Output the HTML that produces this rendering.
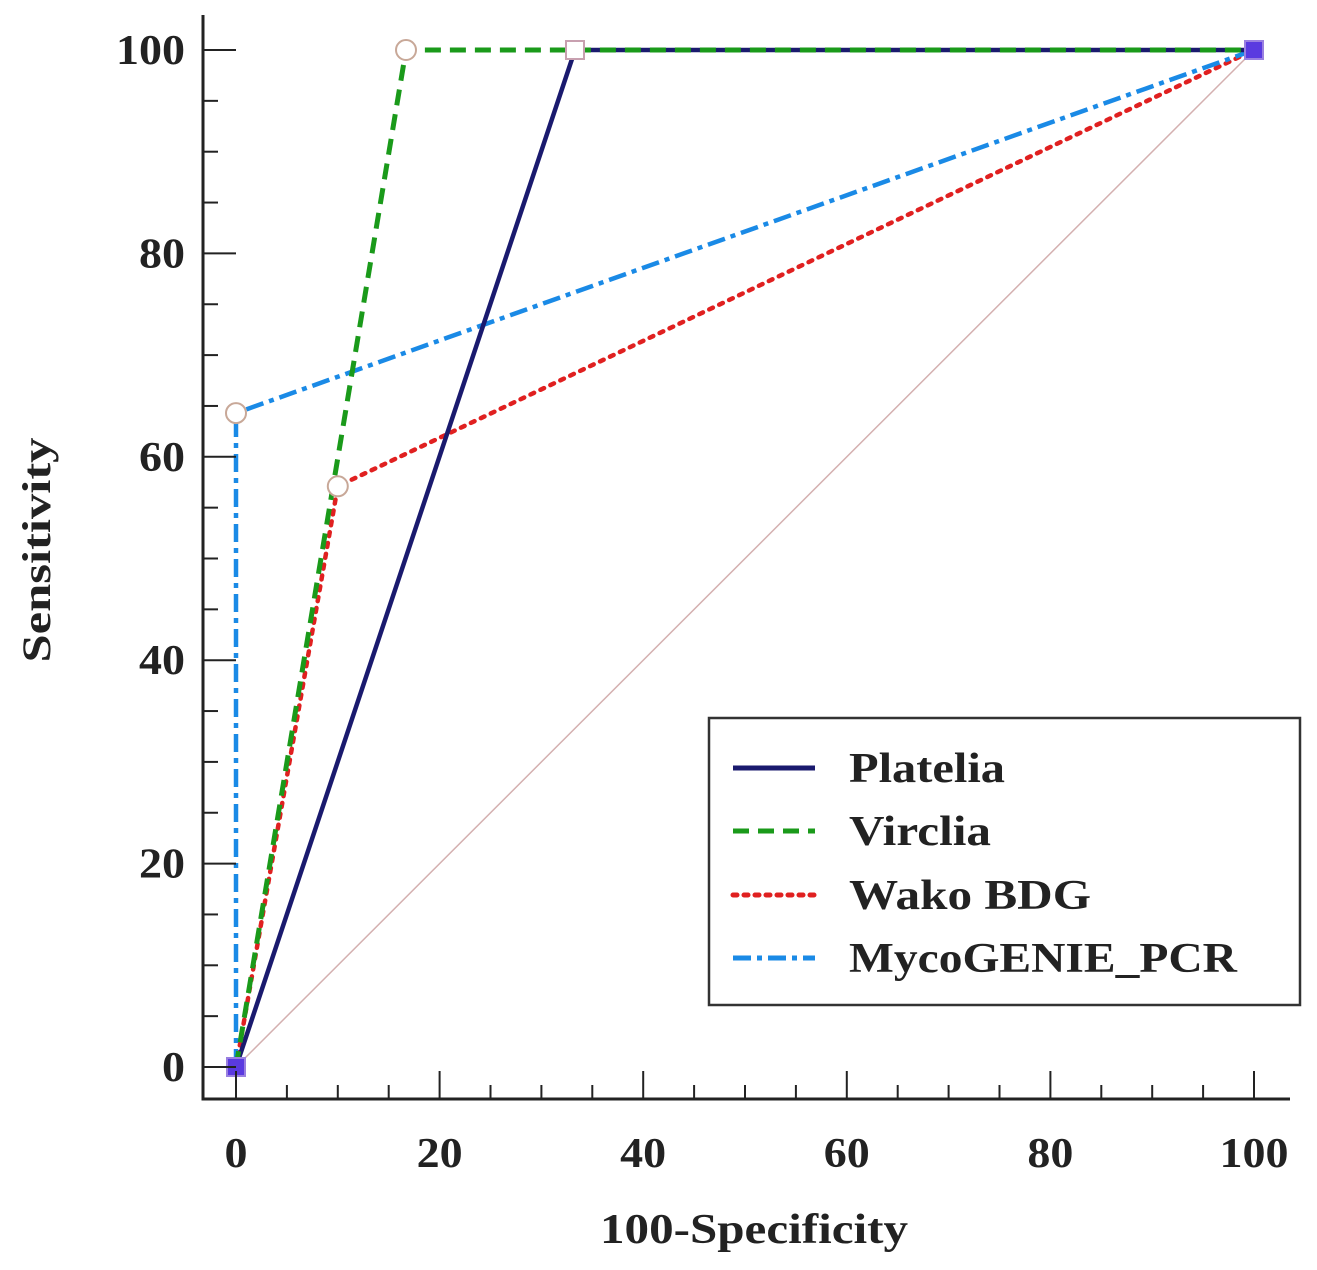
<!DOCTYPE html>
<html><head><meta charset="utf-8"><style>
html,body{margin:0;padding:0;background:#fff}
svg{display:block;font-family:"Liberation Serif",serif;font-weight:bold}
</style></head><body>
<svg id="chart" width="1317" height="1270" viewBox="0 0 1317 1270">
<g id="grid"></g>
<g id="series"></g>
<g id="marks"></g>
<g id="axes"></g>
<text x="754" y="1243" text-anchor="middle" font-size="42" fill="#222" textLength="308" lengthAdjust="spacingAndGlyphs">100-Specificity</text>
<text transform="translate(50,550) rotate(-90)" text-anchor="middle" font-size="40" fill="#222" textLength="225" lengthAdjust="spacingAndGlyphs">Sensitivity</text>
<g>
<rect x="709" y="718" width="591" height="287" fill="#fff" stroke="#333" stroke-width="2.5"/>
<g id="legend-items"></g>
</g>
</svg>
<script>
const seriesNames = ["Platelia","Virclia","Wako BDG","MycoGENIE_PCR"];
const plateliaX = [0,33.3,100], plateliaY = [0,100,100];
const vircliaX = [0,16.7,100], vircliaY = [0,100,100];
const wakoX = [0,10,100], wakoY = [0,57.1,100];
const mycoX = [0,0,100], mycoY = [0,64.3,100];
const xTicks = [0,20,40,60,80,100];
const yTicks = [0,20,40,60,80,100];
const openCircleX = [16.7,10,0], openCircleY = [100,57.1,64.3];
const openSquareX = [33.3], openSquareY = [100];
const endX = [0,100], endY = [0,100];

const NS="http://www.w3.org/2000/svg";
const sx = v => 236 + v*10.18;
const sy = v => 1067 - v*10.17;
function mk(tag, attrs, parent){const e=document.createElementNS(NS,tag);for(const k in attrs)e.setAttribute(k,attrs[k]);parent.appendChild(e);return e;}
const axes=document.getElementById('axes'), ser=document.getElementById('series'), marks=document.getElementById('marks'), grid=document.getElementById('grid');

let d=mk('line',{x1:sx(0),y1:sy(0),x2:sx(100),y2:sy(100),stroke:'#d4b0b0','stroke-width':1.5},grid);



let ax=mk('path',{d:'M203,15 V1099 H1290',fill:'none',stroke:'#222','stroke-width':3},axes);


for(let v=0; v<=100; v+=5){
  const major = v%20===0;
  let t=mk('line',{x1:203,x2:major?236:218,y1:sy(v),y2:sy(v),stroke:'#222','stroke-width':2},axes);
  
  
  let u=mk('line',{x1:sx(v),x2:sx(v),y1:1099,y2:major?1071:1085,stroke:'#222','stroke-width':2},axes);
  
  
}
yTicks.forEach(v=>{
  const s=String(v);
  let t=mk('text',{x:185,y:sy(v)+14,'text-anchor':'end','font-size':42,fill:'#222',textLength:s.length*23,lengthAdjust:'spacingAndGlyphs'},axes);
  t.textContent=v;
  
  
});
xTicks.forEach(v=>{
  const s=String(v);
  let t=mk('text',{x:sx(v),y:1167,'text-anchor':'middle','font-size':42,fill:'#222',textLength:s.length*23,lengthAdjust:'spacingAndGlyphs'},axes);
  t.textContent=v;
  
  
});

const styles=[
 {xs:plateliaX,ys:plateliaY,c:'#1a1a6e',dash:'',w:4.5},
 {xs:vircliaX,ys:vircliaY,c:'#1a9a1a',dash:'16,9',w:5},
 {xs:wakoX,ys:wakoY,c:'#e02020',dash:'4,7',w:4.5},
 {xs:mycoX,ys:mycoY,c:'#1a8ae6',dash:'18,6,5,6',w:4.5}
];
const order=[2,3,0,1];
order.forEach(i=>{
  const s=styles[i];
  const p=s.xs.map((x,j)=>(j?'L':'M')+sx(x)+','+sy(s.ys[j])).join(' ');
  let e=mk('path',{d:p,fill:'none',stroke:s.c,'stroke-width':s.w,'stroke-dasharray':s.dash,'stroke-linecap':i==2?'round':'butt'},ser);
  
  
});
openCircleX.forEach((x,i)=>{
  let c=mk('circle',{cx:sx(x),cy:sy(openCircleY[i]),r:10,fill:'#fff',stroke:'#c8a898','stroke-width':2},marks);
  
  
});
openSquareX.forEach((x,i)=>{
  let c=mk('rect',{x:sx(x)-9,y:sy(openSquareY[i])-9,width:18,height:18,fill:'#fff',stroke:'#c8a0b0','stroke-width':2},marks);
  
  
});
endX.forEach((x,i)=>{
  let c=mk('rect',{x:sx(x)-9,y:sy(endY[i])-9,width:18,height:18,fill:'#5a3ae0',stroke:'#9a80e0','stroke-width':2},marks);
  
  
});

const li=document.getElementById('legend-items');
const ly=[768,831,895,958];
const lw=[156,142,242,388];
seriesNames.forEach((n,i)=>{
  const s=styles[i];
  let l=mk('line',{x1:733,x2:815,y1:ly[i],y2:ly[i],stroke:s.c,'stroke-width':5,'stroke-dasharray':s.dash,'stroke-linecap':i==2?'round':'butt'},li);
  
  
  let t=mk('text',{x:849,y:ly[i]+14,'font-size':42,fill:'#222',textLength:lw[i],lengthAdjust:'spacingAndGlyphs'},li);
  t.textContent=n;
  
  
});
</script>
</body></html>
